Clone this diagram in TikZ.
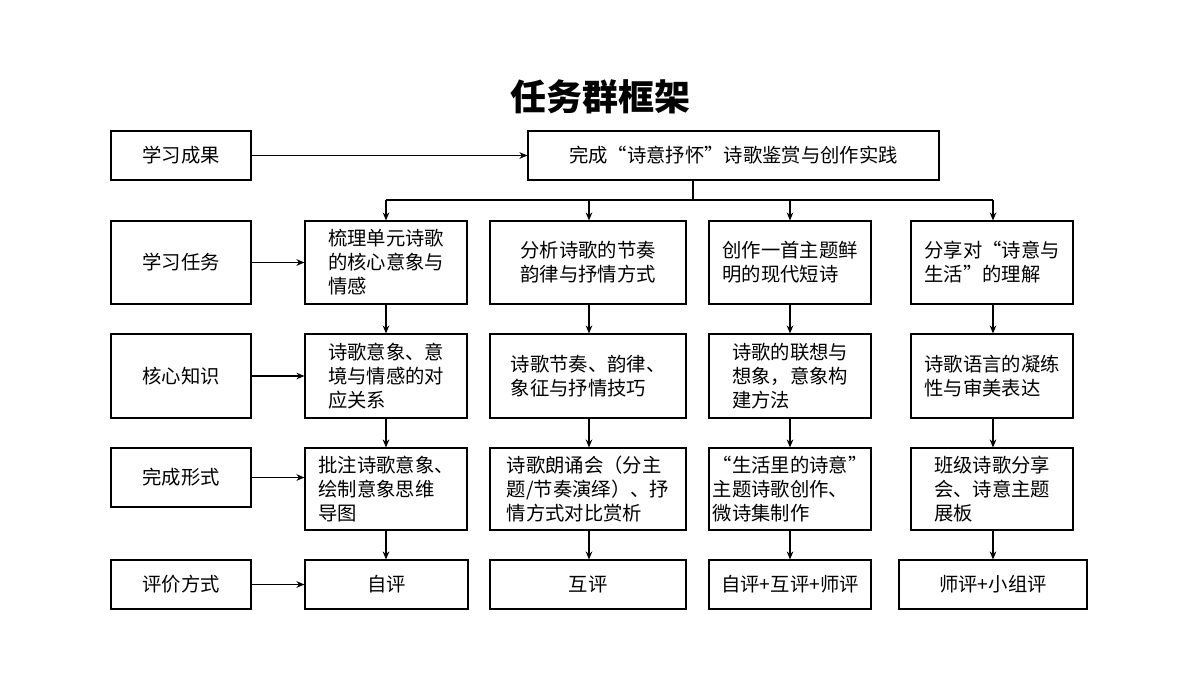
\documentclass[tikz,border=0pt]{standalone}
\usepackage{fontspec}
\setmainfont{Noto Sans CJK SC}
\usetikzlibrary{arrows.meta}
\begin{document}
\begin{tikzpicture}[x=0.75pt,y=-0.75pt,
  bx/.style={draw,line width=0.9pt,inner sep=2pt,font=\fontsize{14.5}{18}\selectfont,align=left},
  ar/.style={-{Stealth[length=6pt,width=5pt]},line width=0.8pt}]
\useasboundingbox (0,0) rectangle (1200,675);
\newcommand\bxat[6]{\node[bx,minimum width={(#4-#2)*0.75pt},minimum height={(#5-#3)*0.75pt}] (#1) at ({(#2+#4)/2},{(#3+#5)/2}) {#6};}
\node[font=\fontsize{27}{30}\selectfont\bfseries] (title) at (600,97) {任务群框架};
% left
\bxat{L1}{111}{131}{251}{180}{学习成果}
\bxat{L2}{111}{221}{251}{304}{学习任务}
\bxat{L3}{111}{334}{251}{418}{核心知识}
\bxat{L4}{111}{448}{251}{507}{完成形式}
\bxat{L5}{111}{560}{251}{609}{评价方式}
\bxat{top}{528}{131}{939}{180}{完成“诗意抒怀”诗歌鉴赏与创作实践}
% row tasks
\bxat{a1}{305}{221}{467}{304}{梳理单元诗歌\\的核心意象与\\情感}
\bxat{a2}{490}{221}{686}{304}{分析诗歌的节奏\\韵律与抒情方式}
\bxat{a3}{709}{221}{871}{304}{创作一首主题鲜\\明的现代短诗}
\bxat{a4}{911}{221}{1073}{304}{分享对“诗意与\\生活”的理解}
\bxat{b1}{305}{334}{467}{418}{诗歌意象、意\\境与情感的对\\应关系}
\bxat{b2}{490}{334}{686}{418}{诗歌节奏、韵律、\\象征与抒情技巧}
\bxat{b3}{709}{334}{871}{418}{诗歌的联想与\\想象，意象构\\建方法}
\bxat{b4}{911}{334}{1073}{418}{诗歌语言的凝练\\性与审美表达}
\bxat{c1}{305}{448}{467}{530}{批注诗歌意象、\\绘制意象思维\\导图}
\bxat{c2}{490}{448}{686}{530}{诗歌朗诵会（分主\\题/节奏演绎）、抒\\情方式对比赏析}
\bxat{c3}{709}{448}{871}{530}{“生活里的诗意”\\主题诗歌创作、\\微诗集制作}
\bxat{c4}{911}{448}{1073}{530}{班级诗歌分享\\会、诗意主题\\展板}
\bxat{d1}{305}{560}{468}{609}{自评}
\bxat{d2}{490}{560}{686}{609}{互评}
\bxat{d3}{709}{560}{871}{609}{自评+互评+师评}
\bxat{d4}{899}{560}{1087}{609}{师评+小组评}
\draw[ar] (L1) -- (top);
\coordinate (bus) at (693,200);
\draw[line width=0.8pt] (top.south -| bus) -- (bus);
\draw[line width=0.8pt] (386,200) -- (993,200);
\foreach \c/\x in {a1/386,a2/589,a3/790,a4/993} \draw[ar] (\x,200) -- (\c.north -| \x,0);
\draw[ar] (L2) -- (a1); \draw[ar] (L3) -- (b1); \draw[ar] (L4.east) -- (L4.east -| c1.west); \draw[ar] (L5) -- (d1);
\foreach \u/\v/\x in {a1/b1/386,b1/c1/386,c1/d1/386,a2/b2/589,b2/c2/589,c2/d2/589,a3/b3/790,b3/c3/790,c3/d3/790,a4/b4/993,b4/c4/993,c4/d4/993}
  \draw[ar] (\u.south -| \x,0) -- (\v.north -| \x,0);
\end{tikzpicture}
\end{document}
